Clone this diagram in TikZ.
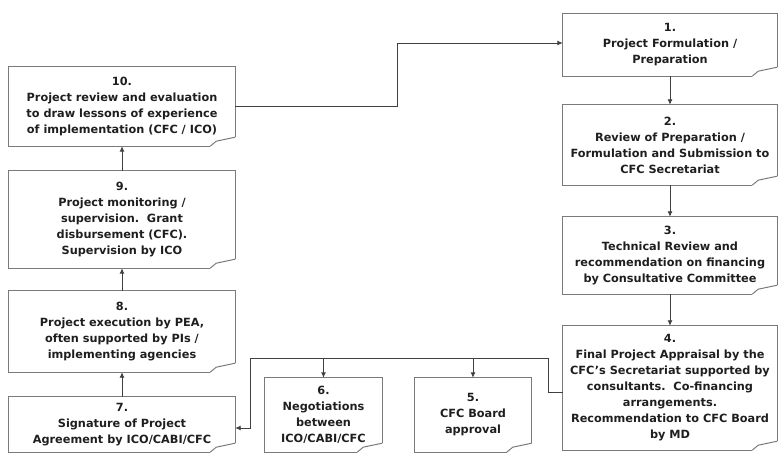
\documentclass[tikz,border=0pt]{standalone}
\usepackage{fontspec}
\setmainfont{DejaVu Sans}
\usepackage{tikz}
\usetikzlibrary{arrows}
\usetikzlibrary{arrows.meta}
\usetikzlibrary{shapes}
\definecolor{boxGray}{HTML}{7A7A7A}
\definecolor{lineGray}{HTML}{404040}
\definecolor{textGray}{HTML}{1E1E1E}

\begin{document}
\begin{tikzpicture}[x = 1pt, y = -1pt]
\tikzstyle{stepStyle}=[shape = rectangle, inner sep = 1.5pt, align = center, text = textGray, font = \fontsize{11.3}{16}\selectfont\bfseries]
\tikzstyle{wideStyle}=[stepStyle, minimum width = 226pt]
\tikzstyle{rightStyle}=[stepStyle, minimum width = 214pt]
\tikzstyle{smallStyle}=[stepStyle, minimum width = 117pt]
\tikzstyle{boxLine}=[draw = boxGray, line width = 1pt]
\tikzstyle{linkStyle}=[draw = lineGray, line width = 0.9pt, -{Latex[length=5.5pt, width=5pt]}]
\tikzstyle{busStyle}=[draw = lineGray, line width = 0.9pt]
\useasboundingbox (0,0) rectangle (779,454);
\node[rightStyle, minimum height = 62pt] (s1) at (670,45) {1.\\Project Formulation /\\Preparation};
\node[rightStyle, minimum height = 80pt] (s2) at (670,145) {2.\\Review of Preparation /\\Formulation and Submission to\\CFC Secretariat};
\node[rightStyle, minimum height = 77pt] (s3) at (670,255.5) {3.\\Technical Review and\\recommendation on financing\\by Consultative Committee};
\node[rightStyle, minimum height = 124pt] (s4) at (670,388) {4.\\Final Project Appraisal by the\\CFC's Secretariat supported by\\consultants.\ \ Co-financing\\arrangements.\\Recommendation to CFC Board\\by MD};
\node[smallStyle, minimum height = 74pt] (s5) at (473,415) {5.\\CFC Board\\approval};
\node[smallStyle, minimum height = 74pt] (s6) at (323.5,415) {6.\\Negotiations\\between\\ICO/CABI/CFC};
\node[wideStyle, minimum height = 55pt] (s7) at (122,424.5) {7.\\Signature of Project\\Agreement by ICO/CABI/CFC};
\node[wideStyle, minimum height = 81pt] (s8) at (122,331.5) {8.\\Project execution by PEA,\\often supported by PIs /\\implementing agencies};
\node[wideStyle, minimum height = 97pt] (s9) at (122,219.5) {9.\\Project monitoring /\\supervision.\ \ Grant\\disbursement (CFC).\\Supervision by ICO};
\node[wideStyle, minimum height = 79pt] (s10) at (122,106.5) {10.\\Project review and evaluation\\to draw lessons of experience\\of implementation (CFC / ICO)};
\foreach \i in {1,...,10}{
  \draw[boxLine] ([xshift=-25pt]s\i.south east) -- (s\i.south west) -- (s\i.north west) -- (s\i.north east) -- ([yshift=9pt]s\i.south east);
  \draw[boxLine] ([xshift=-25pt]s\i.south east) -- ([xshift=-19pt,yshift=5pt]s\i.south east) -- ([yshift=9pt]s\i.south east);
}
\coordinate (bend) at (397,0);
\coordinate (busR) at (548,358);
\coordinate (busL) at (250,358);
\draw[linkStyle] (s10.east) -- (s10.east -| bend) |- ([yshift=2pt]s1.west);
\draw[linkStyle] (s1.south) -- (s2.north);
\draw[linkStyle] (s2.south) -- (s3.north);
\draw[linkStyle] (s3.south) -- (s4.north);
\draw[busStyle] ([yshift=-4pt]s4.west) -| (busR) -- (busL);
\draw[linkStyle] (s5.north |- busR) -- (s5.north);
\draw[linkStyle] (s6.north |- busR) -- (s6.north);
\draw[linkStyle] (busL) |- ([yshift=-3.5pt]s7.east);
\draw[linkStyle] (s7.north) -- (s8.south);
\draw[linkStyle] (s8.north) -- (s9.south);
\draw[linkStyle] (s9.north) -- (s10.south);
\end{tikzpicture}
\end{document}
